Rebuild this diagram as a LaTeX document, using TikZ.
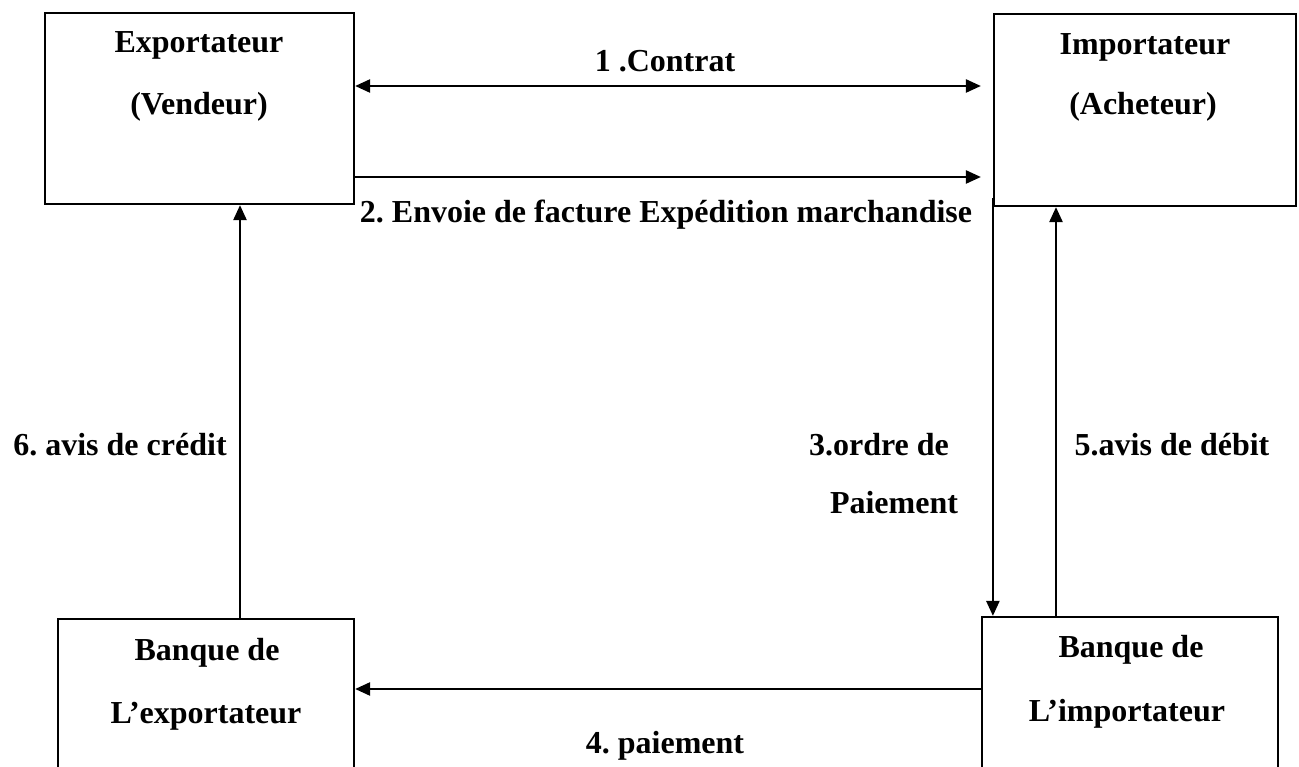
\documentclass[tikz,border=0pt]{standalone}
\usepackage{fontspec}
\setmainfont{Liberation Serif}
\usetikzlibrary{arrows.meta}
\frenchspacing
\begin{document}
\begin{tikzpicture}[x=1pt,y=-1pt,
  party/.style={draw, line width=2.2pt, rectangle, inner sep=0pt},
  lbl/.style={font=\bfseries\fontsize{32}{38}\selectfont, anchor=base, inner sep=0pt},
  flow/.style={line width=2.4pt, -{Triangle[length=15pt,width=13pt]}},
  flowboth/.style={line width=2.4pt, {Triangle[length=15pt,width=13pt]}-{Triangle[length=15pt,width=13pt]}}]
\useasboundingbox (0,0) rectangle (1299,767);

% boxes
\node[party, minimum width=309pt, minimum height=191pt] (exp) at (199.5,108.5) {};
\node[party, minimum width=302pt, minimum height=192pt] (imp) at (1145,110) {};
\node[party, minimum width=296pt, minimum height=160pt] (bexp) at (206,699) {};
\node[party, minimum width=296pt, minimum height=160pt] (bimp) at (1130,697) {};

% box texts
\node[lbl] (t1) at (199,53) {Exportateur};
\node[lbl] (t2) at (199,115) {(Vendeur)};
\node[lbl] (t3) at (1145,55) {Importateur};
\node[lbl] (t4) at (1143,115) {(Acheteur)};
\node[lbl] (t5) at (207,660) {Banque de};
\node[lbl] (t6) at (206,723) {L’exportateur};
\node[lbl] (t7) at (1131,657) {Banque de};
\node[lbl] (t8) at (1127,721) {L’importateur};

% connectors
\draw[flowboth, shorten >=12pt] (exp.east |- 0,86) -- (imp.west |- 0,86);
\draw[flow, shorten >=12pt] (exp.east |- 0,177) -- (imp.west |- 0,177);
\draw[flow] ([yshift=9pt]imp.south west) -- (bimp.north -| imp.west);
\draw[flow] (bimp.north -| 1056,0) -- (imp.south -| 1056,0);
\draw[flow] (bimp.west |- 0,689) -- (bexp.east |- 0,689);
\draw[flow] (bexp.north -| 240,0) -- (exp.south -| 240,0);

% connector labels
\node[lbl] (l1) at (665,72) {1 .Contrat};
\node[lbl] (l2) at (666,223) {2. Envoie de facture Expédition marchandise};
\node[lbl] (l3a) at (879,455) {3.ordre de};
\node[lbl] (l3b) at (894,513) {Paiement};
\node[lbl] (l4) at (665,753) {4. paiement};
\node[lbl] (l5) at (1172,455) {5.avis de débit};
\node[lbl] (l6) at (120,455) {6. avis de crédit};
\end{tikzpicture}
\end{document}
